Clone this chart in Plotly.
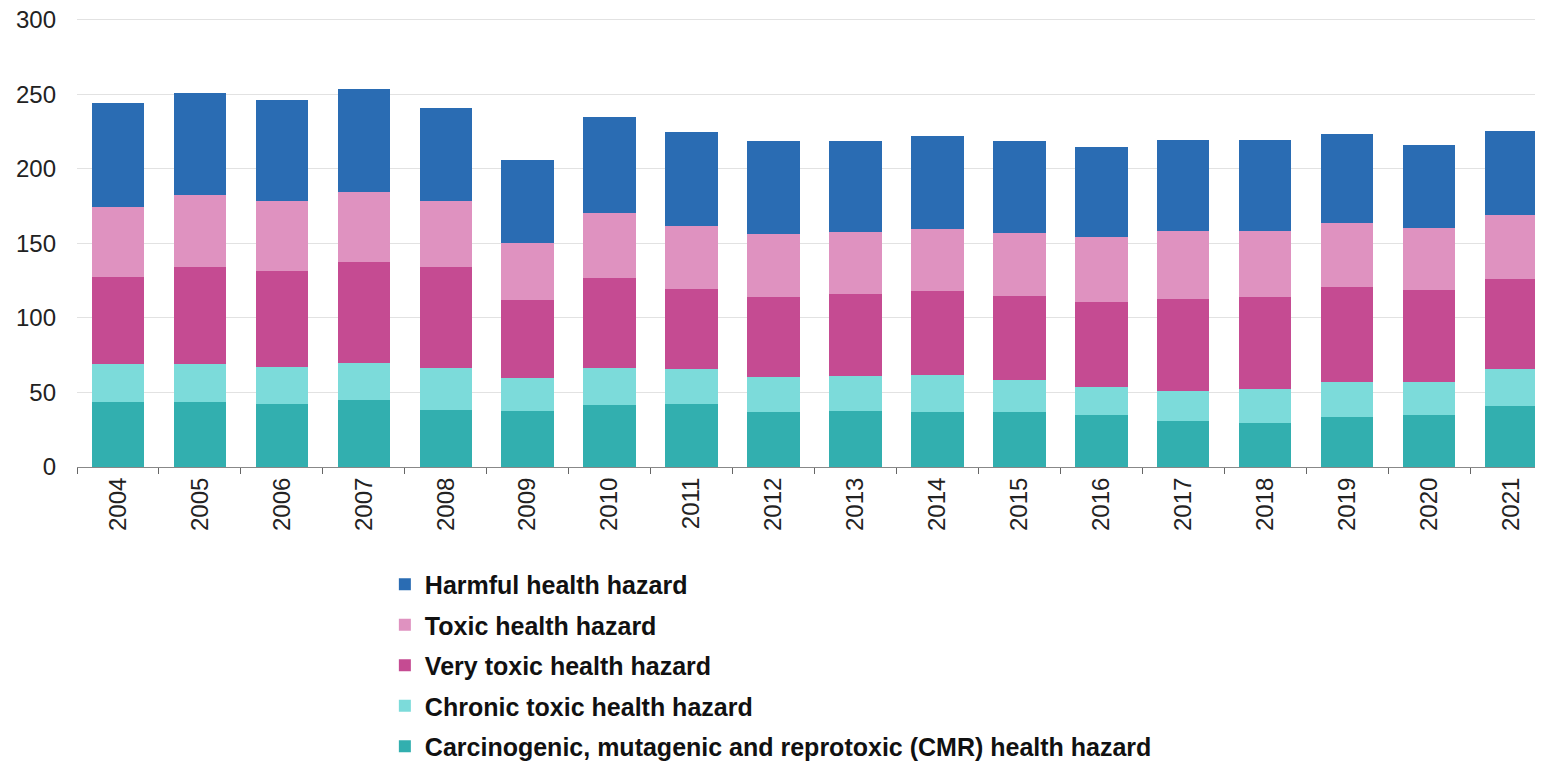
import plotly.graph_objects as go

years = [str(y) for y in range(2004, 2022)]

cmr = [43.6, 43.6, 42.3, 44.8, 38.0, 37.3, 41.4, 42.3, 37.1, 37.8, 36.7, 36.7, 35.1, 31.1, 29.7, 33.8, 35.1, 40.7]
chronic = [25.2, 25.2, 24.9, 24.8, 28.5, 22.1, 25.1, 23.8, 23.6, 23.6, 24.9, 21.7, 18.6, 19.7, 22.5, 23.3, 22.0, 25.1]
very_toxic = [58.5, 65.7, 64.2, 68.2, 68.0, 52.8, 60.6, 53.1, 53.6, 54.5, 56.5, 56.1, 57.2, 62.1, 62.1, 63.5, 61.7, 60.6]
toxic = [47.1, 48.2, 46.8, 46.7, 44.0, 38.4, 43.3, 42.8, 42.0, 41.7, 41.7, 42.4, 43.3, 45.6, 44.2, 43.3, 41.7, 42.8]
harmful = [70.0, 68.6, 68.0, 68.9, 62.5, 55.7, 64.3, 62.9, 62.7, 61.0, 62.6, 61.7, 60.6, 61.2, 61.2, 59.4, 55.7, 56.1]

series = [
    ("Carcinogenic, mutagenic and reprotoxic (CMR) health hazard", cmr, "#32afaf"),
    ("Chronic toxic health hazard", chronic, "#7cdbda"),
    ("Very toxic health hazard", very_toxic, "#c54b92"),
    ("Toxic health hazard", toxic, "#df92c0"),
    ("Harmful health hazard", harmful, "#2a6cb3"),
]

fig = go.Figure()
for i, (name, vals, color) in enumerate(series):
    # bottom of the stack goes last in the legend
    fig.add_trace(go.Bar(
        x=years, y=vals, name=name, legendgroup=name,
        legendrank=1000 - i,
        marker=dict(color=color, line=dict(width=0)),
    ))

fig.update_layout(
    width=1535, height=763,
    barmode="stack", bargap=0.36,
    plot_bgcolor="white", paper_bgcolor="white",
    font=dict(family="Liberation Sans, Arial, sans-serif", size=24, color="#222"),
    margin=dict(l=69, r=0, t=9, b=304, autoexpand=False),
    xaxis=dict(
        type="category", range=[-0.5, 17.39],
        tickangle=-90, tickson="boundaries", ticks="outside", ticklen=6,
        tickcolor="#666", showline=True, linecolor="#888", linewidth=1,
        showgrid=False, tickfont=dict(size=24),
    ),
    yaxis=dict(
        range=[0, 302], tickvals=[0, 50, 100, 150, 200, 250, 300],
        showgrid=True, gridcolor="#e2e2e2", gridwidth=1,
        zeroline=False, ticklabelstandoff=20, tickfont=dict(size=24),
        ticklabeloverflow="allow",
    ),
    legend=dict(
        traceorder="grouped", orientation="v",
        x=0.21, y=-0.21, xanchor="left", yanchor="top",
        font=dict(size=25, color="#111", weight="bold"),
        tracegroupgap=5, itemclick=False,
    ),
)

fig.write_html("out.html")
